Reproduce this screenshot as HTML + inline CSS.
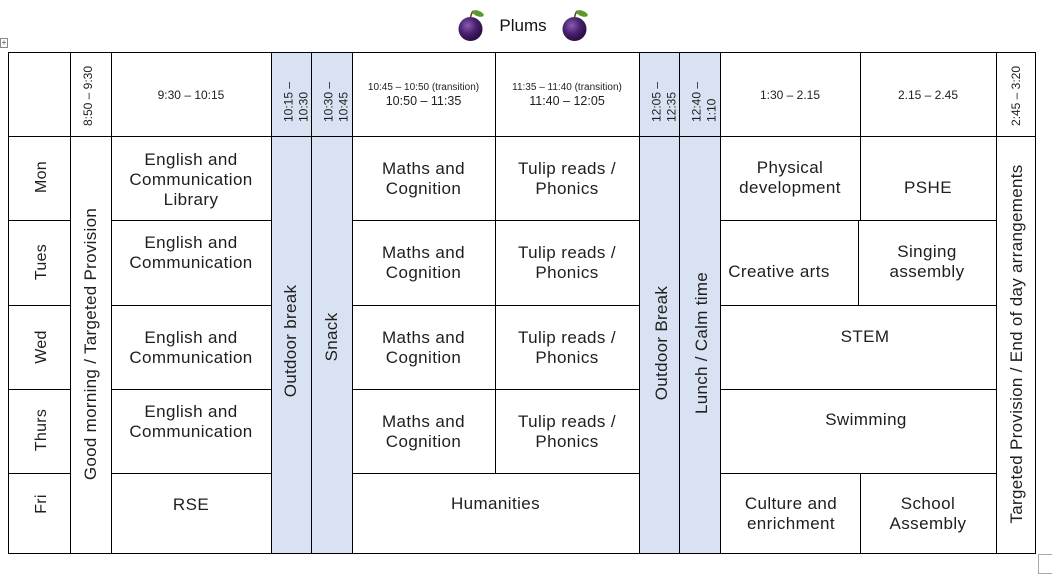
<!DOCTYPE html>
<html>
<head>
<meta charset="utf-8">
<style>
html,body{margin:0;padding:0}
body{width:1052px;height:566px;position:relative;background:#fff;overflow:hidden;font-family:"Liberation Sans",sans-serif;color:#1e1e1e}
.c{position:absolute;border:1px solid #000;box-sizing:border-box}
.b{background:#d9e2f3}
.t{position:absolute;text-align:center;font-size:17px;line-height:20px;letter-spacing:0.4px;white-space:nowrap}
.h{position:absolute;text-align:center;font-size:12px;line-height:16px;white-space:nowrap}
.v{position:absolute;transform:translate(-50%,-50%) rotate(-90deg);white-space:nowrap;font-size:17px;line-height:20px;letter-spacing:0.3px}
.vh{position:absolute;transform:translate(-50%,-50%) rotate(-90deg);white-space:nowrap;font-size:12px;line-height:14px}
.v2{position:absolute;transform:translate(-50%,-50%) rotate(-90deg);white-space:nowrap;font-size:12px;line-height:14.5px;width:42px;text-align:left}
</style>
</head>
<body>

<!-- Title -->
<svg style="position:absolute;left:457px;top:8px" width="30" height="34" viewBox="0 0 30 34">
<defs><radialGradient id="pg" cx="0.38" cy="0.35" r="0.7"><stop offset="0" stop-color="#8a5bb0"/><stop offset="0.5" stop-color="#4a2170"/><stop offset="1" stop-color="#240a3c"/></radialGradient></defs>
<ellipse cx="13.5" cy="21" rx="12" ry="12" fill="url(#pg)"/>
<path d="M13.5 10 Q14 6 16 3" stroke="#6b4a2a" stroke-width="1.6" fill="none"/>
<ellipse cx="21" cy="5.5" rx="6" ry="2.8" transform="rotate(20 21 5.5)" fill="#5a9a2a"/>
</svg>
<div style="position:absolute;left:480px;width:86px;top:15px;text-align:center;font-size:17px;line-height:22px;color:#111">Plums</div>
<svg style="position:absolute;left:561px;top:8px" width="30" height="34" viewBox="0 0 30 34">
<defs><radialGradient id="pg2" cx="0.38" cy="0.35" r="0.7"><stop offset="0" stop-color="#8a5bb0"/><stop offset="0.5" stop-color="#4a2170"/><stop offset="1" stop-color="#240a3c"/></radialGradient></defs>
<ellipse cx="13.5" cy="21" rx="12" ry="12" fill="url(#pg2)"/>
<path d="M13.5 10 Q14 6 16 3" stroke="#6b4a2a" stroke-width="1.6" fill="none"/>
<ellipse cx="21" cy="5.5" rx="6" ry="2.8" transform="rotate(20 21 5.5)" fill="#5a9a2a"/>
</svg>

<!-- table handle -->
<div style="position:absolute;left:0;top:38px;width:8px;height:10px;border:1px solid #888;box-sizing:border-box;font-size:8px;line-height:8px;text-align:center;color:#444;background:#fff">+</div>
<!-- bottom-right marker -->
<div style="position:absolute;left:1038px;top:554px;width:20px;height:20px;border:1px solid #aaa;box-sizing:border-box;background:#fff"></div>

<!-- Header row -->
<div class="c" style="left:8px;top:52px;width:63px;height:85px"></div>
<div class="c" style="left:70px;top:52px;width:42px;height:85px"></div>
<div class="c" style="left:111px;top:52px;width:161px;height:85px"></div>
<div class="c b" style="left:271px;top:52px;width:41px;height:85px"></div>
<div class="c b" style="left:311px;top:52px;width:42px;height:85px"></div>
<div class="c" style="left:352px;top:52px;width:144px;height:85px"></div>
<div class="c" style="left:495px;top:52px;width:145px;height:85px"></div>
<div class="c b" style="left:639px;top:52px;width:41px;height:85px"></div>
<div class="c b" style="left:679px;top:52px;width:42px;height:85px"></div>
<div class="c" style="left:720px;top:52px;width:141px;height:85px"></div>
<div class="c" style="left:860px;top:52px;width:137px;height:85px"></div>
<div class="c" style="left:996px;top:52px;width:40px;height:85px"></div>

<!-- Spanning columns -->
<div class="c" style="left:70px;top:136px;width:42px;height:418px"></div>
<div class="c b" style="left:271px;top:136px;width:41px;height:418px"></div>
<div class="c b" style="left:311px;top:136px;width:42px;height:418px"></div>
<div class="c b" style="left:639px;top:136px;width:41px;height:418px"></div>
<div class="c b" style="left:679px;top:136px;width:42px;height:418px"></div>
<div class="c" style="left:996px;top:136px;width:40px;height:418px"></div>

<!-- Day column -->
<div class="c" style="left:8px;top:136px;width:63px;height:85px"></div>
<div class="c" style="left:8px;top:220px;width:63px;height:86px"></div>
<div class="c" style="left:8px;top:305px;width:63px;height:85px"></div>
<div class="c" style="left:8px;top:389px;width:63px;height:85px"></div>
<div class="c" style="left:8px;top:473px;width:63px;height:81px"></div>

<!-- English column -->
<div class="c" style="left:111px;top:136px;width:161px;height:85px"></div>
<div class="c" style="left:111px;top:220px;width:161px;height:86px"></div>
<div class="c" style="left:111px;top:305px;width:161px;height:85px"></div>
<div class="c" style="left:111px;top:389px;width:161px;height:85px"></div>
<div class="c" style="left:111px;top:473px;width:161px;height:81px"></div>

<!-- Maths column -->
<div class="c" style="left:352px;top:136px;width:144px;height:85px"></div>
<div class="c" style="left:352px;top:220px;width:144px;height:86px"></div>
<div class="c" style="left:352px;top:305px;width:144px;height:85px"></div>
<div class="c" style="left:352px;top:389px;width:144px;height:85px"></div>
<!-- Tulip column -->
<div class="c" style="left:495px;top:136px;width:145px;height:85px"></div>
<div class="c" style="left:495px;top:220px;width:145px;height:86px"></div>
<div class="c" style="left:495px;top:305px;width:145px;height:85px"></div>
<div class="c" style="left:495px;top:389px;width:145px;height:85px"></div>
<!-- Humanities -->
<div class="c" style="left:352px;top:473px;width:288px;height:81px"></div>

<!-- Afternoon -->
<div class="c" style="left:720px;top:136px;width:141px;height:85px"></div>
<div class="c" style="left:860px;top:136px;width:137px;height:85px"></div>
<div class="c" style="left:720px;top:220px;width:139px;height:86px"></div>
<div class="c" style="left:858px;top:220px;width:139px;height:86px"></div>
<div class="c" style="left:720px;top:305px;width:277px;height:85px"></div>
<div class="c" style="left:720px;top:389px;width:277px;height:85px"></div>
<div class="c" style="left:720px;top:473px;width:141px;height:81px"></div>
<div class="c" style="left:860px;top:473px;width:137px;height:81px"></div>

<!-- Header texts -->
<div class="vh" style="left:88px;top:95.5px">8:50 – 9:30</div>
<div class="h" style="left:111px;width:160px;top:87px">9:30 – 10:15</div>
<div class="v2" style="left:296px;top:101px">10:15 –<br>10:30</div>
<div class="v2" style="left:336px;top:101px">10:30 –<br>10:45</div>
<div class="h" style="left:352px;width:143px;top:82px"><div style="font-size:10px;line-height:12px">10:45 – 10:50 (transition)</div><div style="font-size:12.5px;line-height:14px">10:50 – 11:35</div></div>
<div class="h" style="left:495px;width:144px;top:82px"><div style="font-size:10px;line-height:12px">11:35 – 11:40 (transition)</div><div style="font-size:12.5px;line-height:14px">11:40 – 12:05</div></div>
<div class="v2" style="left:664px;top:101px">12:05 –<br>12:35</div>
<div class="v2" style="left:704px;top:101px">12:40 –<br>1:10</div>
<div class="h" style="left:720px;width:140px;top:87px">1:30 – 2.15</div>
<div class="h" style="left:860px;width:136px;top:87px">2.15 – 2.45</div>
<div class="vh" style="left:1016px;top:96px">2:45 – 3:20</div>

<!-- Day labels -->
<div class="v" style="left:42px;top:177px;font-size:16px">Mon</div>
<div class="v" style="left:42px;top:262px;font-size:16px">Tues</div>
<div class="v" style="left:42px;top:347px;font-size:16px">Wed</div>
<div class="v" style="left:42px;top:430px;font-size:16px">Thurs</div>
<div class="v" style="left:42px;top:504px;font-size:16px">Fri</div>

<!-- Vertical body labels -->
<div class="v" style="left:91px;top:343.5px">Good morning / Targeted Provision</div>
<div class="v" style="left:291px;top:341px">Outdoor break</div>
<div class="v" style="left:332px;top:336.5px">Snack</div>
<div class="v" style="left:662px;top:343px">Outdoor Break</div>
<div class="v" style="left:702px;top:343px">Lunch / Calm time</div>
<div class="v" style="left:1017px;top:344px">Targeted Provision / End of day arrangements</div>

<!-- English -->
<div class="t" style="left:111px;width:160px;top:150px">English and<br>Communication<br>Library</div>
<div class="t" style="left:111px;width:160px;top:233px">English and<br>Communication</div>
<div class="t" style="left:111px;width:160px;top:328px">English and<br>Communication</div>
<div class="t" style="left:111px;width:160px;top:402px">English and<br>Communication</div>
<div class="t" style="left:111px;width:160px;top:495px">RSE</div>

<!-- Maths -->
<div class="t" style="left:352px;width:143px;top:159px">Maths and<br>Cognition</div>
<div class="t" style="left:352px;width:143px;top:243px">Maths and<br>Cognition</div>
<div class="t" style="left:352px;width:143px;top:328px">Maths and<br>Cognition</div>
<div class="t" style="left:352px;width:143px;top:412px">Maths and<br>Cognition</div>

<!-- Tulip -->
<div class="t" style="left:495px;width:144px;top:159px">Tulip reads /<br>Phonics</div>
<div class="t" style="left:495px;width:144px;top:243px">Tulip reads /<br>Phonics</div>
<div class="t" style="left:495px;width:144px;top:328px">Tulip reads /<br>Phonics</div>
<div class="t" style="left:495px;width:144px;top:412px">Tulip reads /<br>Phonics</div>

<div class="t" style="left:352px;width:287px;top:494px">Humanities</div>

<!-- Afternoon texts -->
<div class="t" style="left:720px;width:140px;top:158px">Physical<br>development</div>
<div class="t" style="left:860px;width:136px;top:178px">PSHE</div>
<div class="t" style="left:700px;width:158px;top:262px">Creative arts</div>
<div class="t" style="left:858px;width:138px;top:242px">Singing<br>assembly</div>
<div class="t" style="left:730px;width:270px;top:327px">STEM</div>
<div class="t" style="left:730px;width:272px;top:410px">Swimming</div>
<div class="t" style="left:720px;width:142px;top:494px">Culture and<br>enrichment</div>
<div class="t" style="left:860px;width:136px;top:494px">School<br>Assembly</div>

</body>
</html>
